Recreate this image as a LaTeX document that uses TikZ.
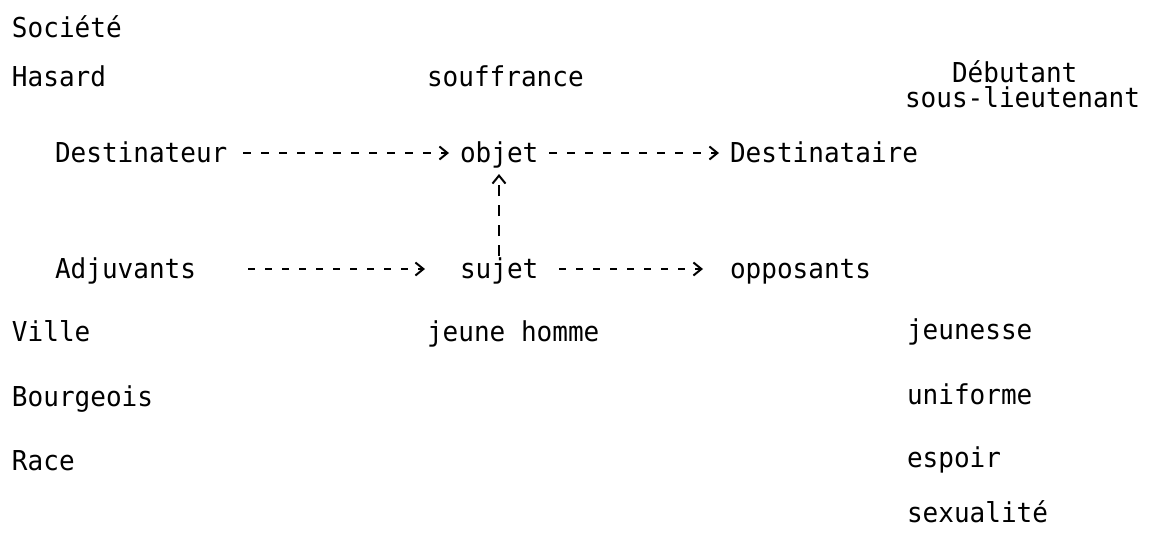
\documentclass[tikz,border=0pt]{standalone}
\usepackage{fontspec}
\setmainfont{DejaVu Sans Mono}[FakeStretch=0.95]
\usetikzlibrary{arrows.meta}
\begin{document}
\begin{tikzpicture}[x=1pt,y=-1pt,
  lbl/.style={anchor=base west, inner sep=0pt, outer sep=0pt, text height=18pt, text depth=0pt,
    font=\fontsize{27.4pt}{30pt}\selectfont},
  conn/.style={line width=1.8pt, dash pattern=on 8pt off 10pt,
    -{Straight Barb[length=8pt,width=13pt,line width=2pt]}},
  vconn/.style={line width=1.8pt, dash pattern=on 11pt off 9pt,
    -{Straight Barb[length=8pt,width=13pt,line width=2pt]}},
]
\useasboundingbox (0,0) rectangle (1149,533);
% left column
\node[lbl] (societe) at (12,37) {Société};
\node[lbl] (hasard) at (12,86) {Hasard};
\node[lbl] (ville) at (12,341) {Ville};
\node[lbl] (bourgeois) at (12,406) {Bourgeois};
\node[lbl] (race) at (12,470) {Race};
% actants
\node[lbl] (dest) at (55,162) {Destinateur};
\node[lbl] (adj) at (55,278) {Adjuvants};
\node[lbl] (souff) at (427,86) {souffrance};
\node[lbl] (objet) at (460,162) {objet};
\node[lbl] (sujet) at (460,278) {sujet};
\node[lbl] (jeune) at (427,341) {jeune homme};
\node[lbl] (destre) at (730,162) {Destinataire};
\node[lbl] (opp) at (730,278) {opposants};
% right column
\node[lbl] (debut) at (952,82) {Débutant};
\node[lbl] (souslt) at (905,107) {sous-lieutenant};
\node[lbl] (jeunesse) at (907,339) {jeunesse};
\node[lbl] (uniforme) at (907,404) {uniforme};
\node[lbl] (espoir) at (907,467) {espoir};
\node[lbl] (sexu) at (907,522) {sexualité};
% connectors
\draw[conn, shorten <=16pt, shorten >=11pt] (dest.east) -- (objet.west);
\draw[conn, shorten <=11pt, shorten >=11pt] (objet.east) -- (destre.west);
\draw[conn, dash pattern=on 7pt off 10pt, shorten <=52pt, shorten >=35pt] (adj.east) -- (sujet.west);
\draw[conn, dash pattern=on 7pt off 10pt, shorten <=21pt, shorten >=27pt] (sujet.east) -- (opp.west);
\coordinate (sj) at ([xshift=39pt]sujet.north west);
\coordinate (oj) at ([xshift=39pt]objet.south west);
\draw[vconn, shorten <=4pt, shorten >=12pt] (sj) -- (oj);
\end{tikzpicture}
\end{document}
